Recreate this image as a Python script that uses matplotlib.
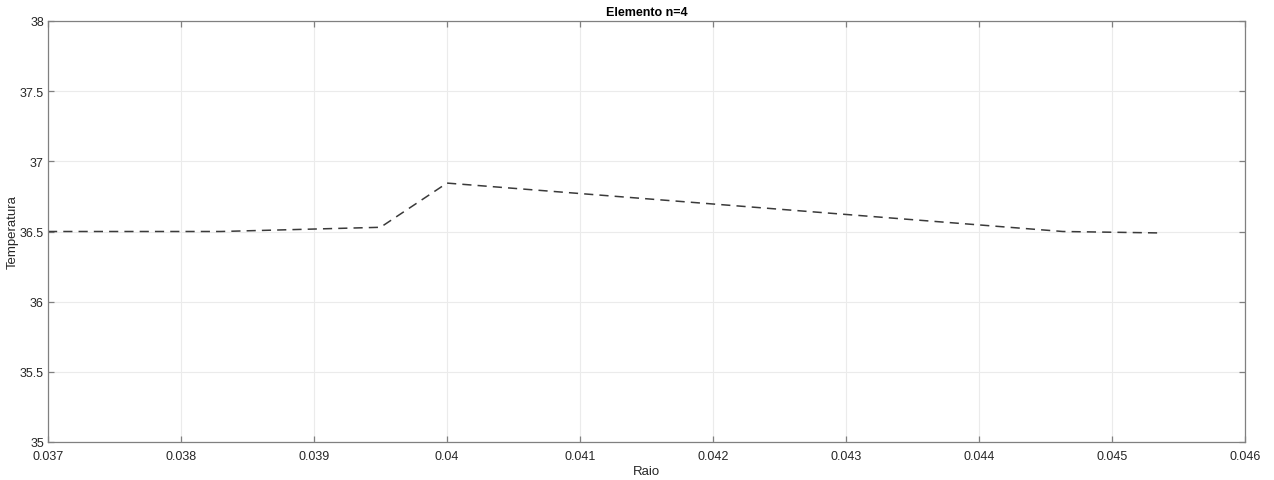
import matplotlib.pyplot as plt

plt.rcParams['font.family'] = ['Liberation Sans', 'DejaVu Sans']

raio = [0.037, 0.0383, 0.0395, 0.0400, 0.04463, 0.04534]
temperatura = [36.50, 36.50, 36.53, 36.845, 36.50, 36.49]

xticks = [0.037, 0.038, 0.039, 0.04, 0.041, 0.042, 0.043, 0.044, 0.045, 0.046]
xticklabels = ['0.037', '0.038', '0.039', '0.04', '0.041', '0.042', '0.043', '0.044', '0.045', '0.046']
yticks = [35, 35.5, 36, 36.5, 37, 37.5, 38]
yticklabels = ['35', '35.5', '36', '36.5', '37', '37.5', '38']

fig = plt.figure(figsize=(12.74, 4.81), dpi=100)
ax = fig.add_axes([48/1274, 1 - 443/481, (1245-48)/1274, (443-22)/481])

ax.plot(raio, temperatura, color='#3a3a3a', linestyle=(0, (6, 4)), linewidth=1.1)

ax.set_xlim(0.037, 0.046)
ax.set_ylim(35, 38)
ax.set_xticks(xticks)
ax.set_xticklabels(xticklabels)
ax.set_yticks(yticks)
ax.set_yticklabels(yticklabels)

ax.grid(True, color='#ebebeb', linewidth=0.8)
ax.set_axisbelow(True)
for s in ax.spines.values():
    s.set_color('#808080')
    s.set_linewidth(0.9)
ax.tick_params(direction='in', length=4, width=0.9, color='#808080',
               labelsize=9, labelcolor='#262626', top=True, right=True, pad=3)
ax.tick_params(axis='x', pad=6)

ax.set_title('Elemento n=4', fontsize=9, fontweight='bold', pad=4)
ax.set_xlabel('Raio', fontsize=9.5, color='#262626', labelpad=2)
ax.set_ylabel('Temperatura', fontsize=9.5, color='#262626', va='center')
ax.yaxis.set_label_coords(-35.5/1197, 0.5)

fig.savefig('out.png', dpi=100)
